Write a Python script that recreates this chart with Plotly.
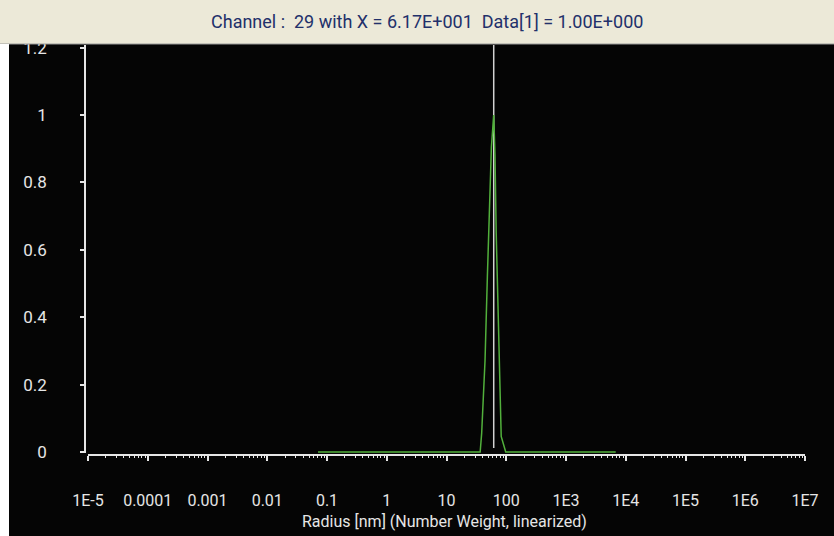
import plotly.graph_objects as go

# ---- data ----
radius_nm = [0.0706, 36.6, 38.8, 41.4, 44.1, 48.3, 52.8, 56.4, 61.7,
             64.8, 67.9, 73.3, 77.6, 82.3, 98.0, 6790.0]
number_weight = [0.0, 0.0, 0.056, 0.16, 0.27, 0.52, 0.72, 0.905, 1.0,
                 0.88, 0.65, 0.40, 0.17, 0.046, 0.0, 0.0]
cursor_x = 61.7
cursor_y = [0.012, 1.25]

x_tickvals = [1e-5, 1e-4, 1e-3, 1e-2, 1e-1, 1, 10, 100, 1e3, 1e4, 1e5, 1e6, 1e7]
x_ticktext = ["1E-5", "0.0001", "0.001", "0.01", "0.1", "1", "10", "100",
              "1E3", "1E4", "1E5", "1E6", "1E7"]
y_tickvals = [0, 0.2, 0.4, 0.6, 0.8, 1.0, 1.2]
y_ticktext = ["0", "0.2", "0.4", "0.6", "0.8", "1", "1.2"]
minor_vals = [m * 10.0 ** e for e in range(-5, 7) for m in range(2, 10)]

title_text = "Channel :  29 with X = 6.17E+001  Data[1] = 1.00E+000"
x_title = "Radius [nm] (Number Weight, linearized)"

FONT = "Roboto, Liberation Sans, sans-serif"
AXC = "#E6E6E6"

W, H = 834, 536
L, R, T, B = 85, 805, 45, 455
PW, PH = R - L, B - T


def px(xp):
    return (xp - L) / PW


def py(yp):
    return (B - yp) / PH


fig = go.Figure()
fig.add_trace(go.Scatter(x=[cursor_x, cursor_x], y=cursor_y, mode="lines",
                         line=dict(color="#D2D2D2", width=1.5),
                         hoverinfo="skip", showlegend=False))
fig.add_trace(go.Scatter(x=radius_nm, y=number_weight, mode="lines",
                         line=dict(color="#52B03C", width=1.5),
                         showlegend=False))

fig.update_layout(
    width=W, height=H,
    margin=dict(l=L, r=W - R, t=T, b=H - B, pad=0),
    paper_bgcolor="#050505", plot_bgcolor="#050505",
    font=dict(family=FONT, color=AXC),
    xaxis=dict(type="log", range=[-5, 7], domain=[px(88), 1],
               anchor="free", position=0,
               showgrid=False, zeroline=False,
               showline=True, linecolor=AXC, linewidth=1.5,
               ticks="outside", ticklen=5, tickwidth=1.5, tickcolor=AXC,
               tickmode="array", tickvals=x_tickvals, ticktext=x_ticktext,
               tickfont=dict(family=FONT, size=16, color=AXC),
               ticklabelstandoff=26,
               minor=dict(tickmode="array", tickvals=minor_vals, ticks="outside",
                          ticklen=2, tickwidth=1, tickcolor=AXC, showgrid=False)),
    yaxis=dict(range=[-0.003, 1.2077], domain=[py(453), 1],
               anchor="free", position=0,
               showgrid=False, zeroline=False,
               showline=True, linecolor=AXC, linewidth=1.5,
               ticks="outside", ticklen=4, tickwidth=1.5, tickcolor=AXC,
               tickmode="array", tickvals=y_tickvals, ticktext=y_ticktext,
               tickfont=dict(family=FONT, size=17, color=AXC),
               ticklabelstandoff=30),
    shapes=[
        dict(type="rect", xref="paper", yref="paper", layer="above",
             x0=px(0), x1=px(W), y0=py(44), y1=py(0),
             fillcolor="#ECE9D8", line=dict(width=0)),
        dict(type="line", xref="paper", yref="paper", layer="above",
             x0=px(0), x1=px(W), y0=py(44), y1=py(44),
             line=dict(color="#9A9A9A", width=1)),
        dict(type="rect", xref="paper", yref="paper", layer="above",
             x0=px(0), x1=px(9), y0=py(H), y1=py(44),
             fillcolor="#FFFFFF", line=dict(width=0)),
    ],
    annotations=[
        dict(text=title_text, xref="paper", yref="paper",
             x=px(427), y=py(22), xanchor="center", yanchor="middle",
             showarrow=False, font=dict(family=FONT, size=18, color="#22306A")),
        dict(text=x_title, xref="paper", yref="paper",
             x=px(444), y=py(521), xanchor="center", yanchor="middle",
             showarrow=False, font=dict(family=FONT, size=16, color=AXC)),
    ],
)

fig.write_html("out.html", config={"displayModeBar": False},
               post_script="document.body.style.margin='0';document.body.style.overflow='hidden';")
